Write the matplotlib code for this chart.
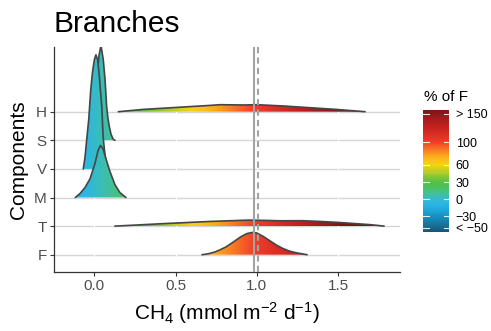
import numpy as np
import matplotlib
matplotlib.use("Agg")
import matplotlib.pyplot as plt
from matplotlib.colors import LinearSegmentedColormap, Normalize
from matplotlib.patches import Polygon
from matplotlib.cm import ScalarMappable

plt.rcParams['font.family'] = ['Liberation Sans', 'DejaVu Sans']
plt.rcParams['mathtext.fontset'] = 'custom'
plt.rcParams['mathtext.rm'] = 'Liberation Sans'
plt.rcParams['mathtext.it'] = 'Liberation Sans:italic'
plt.rcParams['mathtext.default'] = 'regular'

# ---------------- data ----------------
categories = ["F", "T", "M", "V", "S", "H"]          # bottom -> top

H_x = [0.148, 0.30, 0.507, 0.712, 0.774, 0.918, 1.0, 1.164, 1.328, 1.49, 1.667]
H_h = [0.0, 0.08, 0.15, 0.22, 0.245, 0.235, 0.245, 0.20, 0.14, 0.08, 0.0]

S_x = [-0.039, -0.014, 0.004, 0.017, 0.029, 0.041, 0.055, 0.066, 0.076, 0.084, 0.092, 0.103, 0.117, 0.127]
S_h = [0.0, 0.35, 1.22, 2.17, 2.97, 3.32, 2.83, 2.13, 1.19, 0.77, 0.49, 0.21, 0.03, 0.0]

V_x = [-0.068, -0.057, -0.047, -0.034, -0.022, -0.011, 0.0, 0.010, 0.021, 0.031, 0.046, 0.054, 0.063, 0.072, 0.084]
V_h = [0.0, 0.42, 1.01, 1.75, 2.76, 3.39, 3.81, 3.99, 3.81, 3.22, 2.17, 1.15, 0.63, 0.24, 0.0]

M_x = [-0.117, -0.088, -0.057, -0.026, 0.004, 0.023, 0.038, 0.054, 0.072, 0.097, 0.127, 0.158, 0.195]
M_h = [0.0, 0.14, 0.35, 0.66, 1.19, 1.64, 1.82, 1.70, 1.35, 0.90, 0.45, 0.17, 0.0]

T_x = [0.127, 0.25, 0.40, 0.55, 0.70, 0.85, 0.95, 1.05, 1.15, 1.28, 1.40, 1.50, 1.60, 1.70, 1.784]
T_h = [0.0, 0.035, 0.08, 0.12, 0.16, 0.19, 0.21, 0.20, 0.185, 0.19, 0.16, 0.13, 0.09, 0.05, 0.0]

F_x = [0.663, 0.70, 0.74, 0.774, 0.81, 0.85, 0.90, 0.94, 0.975, 1.0, 1.04, 1.08, 1.12, 1.16, 1.20, 1.24, 1.28, 1.31]
F_h = [0.0, 0.03, 0.09, 0.17, 0.27, 0.42, 0.62, 0.74, 0.78, 0.76, 0.64, 0.49, 0.34, 0.22, 0.13, 0.07, 0.03, 0.0]

ridges = {"H": (H_x, H_h), "S": (S_x, S_h), "V": (V_x, V_h),
          "M": (M_x, M_h), "T": (T_x, T_h), "F": (F_x, F_h)}

F_reference = 0.985        # solid line; colour = x as % of this value
vline_solid = 0.985
vline_dashed = 1.006

x_ticks = [0.0, 0.5, 1.0, 1.5]
x_tick_labels = ["0.0", "0.5", "1.0", "1.5"]

scale_values = [-57, -50, -30, -12, -5, 2, 10, 20, 30, 45, 60, 70, 82, 100, 125, 150, 157]
scale_colors = ["#15577a", "#1a6789", "#1592c4", "#28b2e4", "#2db7e2", "#37bcc2",
                "#42c09a", "#4bc160", "#52c142", "#a7cb2c", "#f5d314", "#fbbd1a",
                "#fb8f20", "#ef3f2a", "#c9221f", "#8d1819", "#7c1315"]
legend_breaks = [150, 100, 60, 30, 0, -30, -50]
legend_labels = ["> 150", "100", "60", "30", "0", "\u221230", "< \u221250"]

# ---------------- figure ----------------
W, Hh = 491, 331
fig = plt.figure(figsize=(W / 100, Hh / 100), dpi=100)
ax = fig.add_axes([53.7 / W, (Hh - 271.7) / Hh, (400 - 53.7) / W, (271.7 - 46.7) / Hh])

vmin, vmax = scale_values[0], scale_values[-1]
pos = [(v - vmin) / (vmax - vmin) for v in scale_values]
cmap = LinearSegmentedColormap.from_list("pctF", list(zip(pos, scale_colors)))
norm = Normalize(vmin=vmin, vmax=vmax)

ypos = {c: i + 1 for i, c in enumerate(categories)}

# grid
for c in categories:
    ax.axhline(ypos[c], color="#d6d6d6", lw=1.0, zorder=0.5)
for xt in x_ticks:
    ax.axvline(xt, color="white", lw=0.8, zorder=0.6)

# ridges: top first so lower ridges sit in front
order = ["H", "S", "V", "M", "T", "F"]
for k, name in enumerate(order):
    xs = np.asarray(ridges[name][0])
    hs = np.asarray(ridges[name][1])
    base = ypos[name]
    z = 2 + k
    verts = list(zip(xs, base + hs)) + [(xs[-1], base), (xs[0], base)]
    poly = Polygon(verts, closed=True, facecolor="none", edgecolor="none", zorder=z)
    ax.add_patch(poly)
    xg = np.linspace(xs[0], xs[-1], 400)
    pct = xg / F_reference * 100
    im = ax.imshow(pct[None, :], extent=[xs[0], xs[-1], base, base + hs.max()],
                   aspect="auto", cmap=cmap, norm=norm, origin="lower",
                   interpolation="bilinear", zorder=z)
    im.set_clip_path(poly)
    ax.plot(xs, base + hs, color="#454545", lw=1.2, zorder=z + 0.5,
            solid_joinstyle="round", solid_capstyle="round")

ax.axvline(vline_solid, color="#a3a3a3", lw=1.5, zorder=20)
ax.axvline(vline_dashed, color="#a3a3a3", lw=1.5, ls=(0, (3, 2)), zorder=20)

ax.set_xlim(-0.25, 1.882)
ax.set_ylim(0.406, 8.273)
ax.set_xticks(x_ticks)
ax.set_xticklabels(x_tick_labels)
ax.set_yticks([ypos[c] for c in categories])
ax.set_yticklabels(categories)
ax.tick_params(axis="both", length=2.6, width=0.8, color="#333333",
               labelcolor="#4d4d4d", labelsize=11, pad=2.5)
for s in ["top", "right"]:
    ax.spines[s].set_visible(False)
for s in ["left", "bottom"]:
    ax.spines[s].set_color("#333333")
    ax.spines[s].set_linewidth(0.9)
ax.set_facecolor("white")

ax.set_xlabel(r"CH$_4$ (mmol m$^{-2}$ d$^{-1}$)", fontsize=15, color="black")
ax.xaxis.label.set_va("baseline")
ax.xaxis.set_label_coords(0.5, (271.7 - 319.3) / 225.0)
ax.set_ylabel("Components", fontsize=15, color="black", va="baseline",
              rotation_mode="anchor")
ax.yaxis.set_label_coords((24 - 53.7) / 346.3, 0.5)

ax.text(0.0, (271.7 - 32) / 225.0, "Branches", transform=ax.transAxes,
        fontsize=21.5, ha="left", va="baseline", color="black")

# colour bar legend
cax = fig.add_axes([423.3 / W, (Hh - 231.7) / Hh, 26 / W, 122 / Hh])
sm = ScalarMappable(norm=norm, cmap=cmap)
cb = fig.colorbar(sm, cax=cax)
cb.outline.set_visible(False)
cb.set_ticks(legend_breaks)
cb.set_ticklabels(legend_labels)
cax.tick_params(length=0, pad=4.6, labelsize=9, labelcolor="black")
for b in legend_breaks:
    cax.axhline(b, xmin=0.0, xmax=0.2, color="white", lw=0.8, alpha=0.9)
    cax.axhline(b, xmin=0.8, xmax=1.0, color="white", lw=0.8, alpha=0.9)

fig.text(424 / W, (Hh - 100.7) / Hh, "% of F", fontsize=11, ha="left",
         va="baseline", color="black")

fig.savefig("out.png", dpi=100, facecolor="white")
